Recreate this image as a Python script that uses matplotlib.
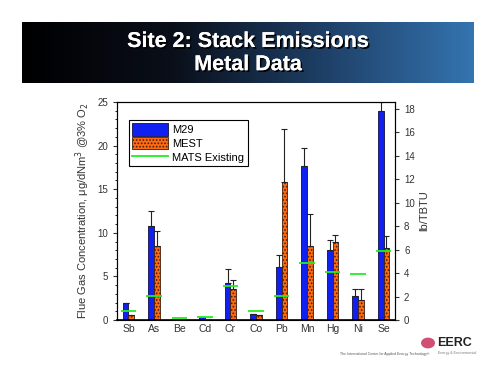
import numpy as np
import matplotlib
matplotlib.use("Agg")
import matplotlib.pyplot as plt
import matplotlib.patheffects as pe
from matplotlib.patches import Patch, Circle
from matplotlib.lines import Line2D

plt.rcParams['font.family'] = ['Liberation Sans', 'DejaVu Sans']
plt.rcParams['hatch.color'] = '#c04000'
plt.rcParams['hatch.linewidth'] = 0.8

# data (ug/dNm3 @3% O2)
metals = ['Sb', 'As', 'Be', 'Cd', 'Cr', 'Co', 'Pb', 'Mn', 'Hg', 'Ni', 'Se']
m29 = [2.0, 10.8, 0.15, 0.3, 4.3, 0.7, 6.1, 17.7, 8.0, 2.8, 24.0]
m29_err = [0.0, 1.7, 0.0, 0.0, 1.5, 0.0, 1.3, 2.0, 1.2, 0.7, 1.0]
mest = [0.6, 8.5, 0.1, 0.1, 3.6, 0.6, 15.8, 8.5, 8.9, 2.3, 8.2]
mest_err = [0.0, 1.7, 0.0, 0.0, 1.0, 0.0, 6.1, 3.7, 0.8, 1.2, 1.4]
mats = [1.0, 2.7, 0.25, 0.35, 3.9, 1.0, 2.7, 6.5, 5.5, 5.3, 7.9]

blue = '#1020f0'
orange = '#ff6a10'
green = '#22ee22'

fig = plt.figure(figsize=(4.96, 3.83), dpi=100)

# title banner with gradient
bax = fig.add_axes([22/496, 1-83/383, 452/496, 61/383])
grad = np.linspace(0, 1, 256).reshape(1, -1)
cmap = matplotlib.colors.LinearSegmentedColormap.from_list(
    'ban', ['#000000', '#0a0f1a', '#1e3f66', '#3474b0'])
bax.imshow(grad, aspect='auto', cmap=cmap, extent=[0, 1, 0, 1])
bax.set_xlim(0, 1)
bax.set_ylim(0, 1)
bax.axis('off')
shadow = [pe.withSimplePatchShadow(offset=(1.2, -1.2), shadow_rgbFace='black', alpha=1),
          pe.Normal()]
bax.text(0.5, 0.68, 'Site 2: Stack Emissions', color='white', fontsize=15.5,
         fontweight='bold', ha='center', va='center', path_effects=shadow)
bax.text(0.5, 0.30, 'Metal Data', color='white', fontsize=15.5,
         fontweight='bold', ha='center', va='center', path_effects=shadow)

ax = fig.add_axes([117/496, 1-320/383, 278/496, 218/383])
x = np.arange(len(metals))
w = 0.23
ax.bar(x - w/2, m29, w, color=blue, edgecolor='#101040', linewidth=0.6, zorder=2)
ax.bar(x + w/2, mest, w, color=orange, edgecolor='#402010', linewidth=0.6,
       hatch='.....', zorder=2)
ax.errorbar(x - w/2, m29, yerr=[np.zeros(len(m29)), m29_err], fmt='none',
            ecolor='#222222', elinewidth=0.8, capsize=2.5, capthick=0.8, zorder=3)
ax.errorbar(x + w/2, mest, yerr=[np.zeros(len(mest)), mest_err], fmt='none',
            ecolor='#222222', elinewidth=0.8, capsize=2.5, capthick=0.8, zorder=3)
ax.hlines(mats, x - 0.3, x + 0.3, color=green, linewidth=1.3, zorder=4)

ax.set_xlim(-0.45, 10.45)
ax.set_ylim(0, 25)
ax.set_yticks([0, 5, 10, 15, 20, 25])
ax.set_yticks(np.arange(0, 26, 1), minor=True)
ax.set_xticks(x)
ax.set_xticklabels(metals, fontsize=7.5, color='#333333')
ax.tick_params(axis='x', length=0, pad=3)
ax.tick_params(axis='y', labelsize=7, colors='#333333', direction='out', length=3)
ax.tick_params(axis='y', which='minor', direction='out', length=1.5)
ax.set_ylabel('Flue Gas Concentration, \u03bcg/dNm$^3$ @3% O$_2$',
              fontsize=8, color='#333333', labelpad=4)
for s in ax.spines.values():
    s.set_linewidth(0.8)
ax.spines['bottom'].set_linewidth(1.2)

ax2 = ax.twinx()
ax2.set_ylim(0, 18 * 218 / 211)
ax2.set_yticks(np.arange(0, 19, 2))
ax2.tick_params(axis='y', labelsize=7, colors='#333333', direction='out', length=3)
ax2.set_ylabel('lb/TBTU', fontsize=8, color='#333333', labelpad=3)

handles = [Patch(facecolor=blue, edgecolor='#101040', linewidth=0.6),
           Patch(facecolor=orange, edgecolor='#402010', linewidth=0.6, hatch='.....'),
           Line2D([0], [0], color=green, linewidth=1.3)]
leg = ax.legend(handles, ['M29', 'MEST', 'MATS Existing'], loc='upper left',
                bbox_to_anchor=(0.043, 0.917), borderaxespad=0, fontsize=8,
                handlelength=3.2, handleheight=1.3, labelspacing=0.15,
                borderpad=0.3, handletextpad=0.4, fancybox=False, framealpha=1)
leg.get_frame().set_edgecolor('black')
leg.get_frame().set_linewidth(0.8)

# EERC logo
fig.patches.append(Circle((428/496, 1-343/383), 7/496, transform=fig.transFigure,
                          facecolor='#c8305a', edgecolor='none', alpha=0.85))
fig.text(437/496, 1-343/383, 'EERC', fontsize=9, fontweight='bold', ha='left',
         va='center', color='#222222')
fig.text(438/496, 1-353/383, 'Energy & Environmental', fontsize=2.5, ha='left',
         va='center', color='#777777')
fig.text(430/496, 1-354/383, 'The International Center for Applied Energy Technology\u00ae',
         fontsize=2.5, ha='right', va='center', color='#555555')

fig.savefig('out.png', dpi=100)
